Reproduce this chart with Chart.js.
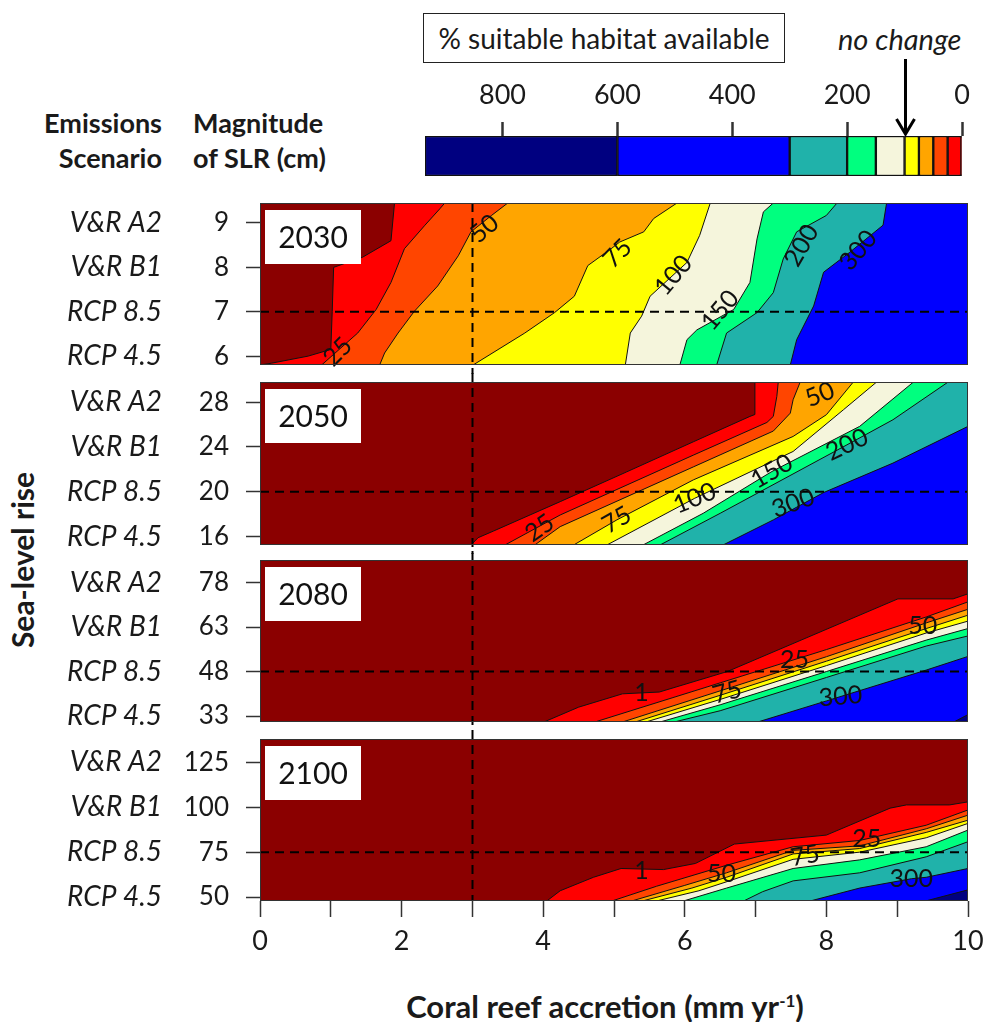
<!DOCTYPE html>
<html>
<head>
<meta charset="utf-8">
<script src="https://cdn.jsdelivr.net/npm/chart.js@4"></script>
<style>
  body { margin: 0; background: #fff; }
  #page { position: relative; width: 985px; height: 1022px; font-family: Lato, "Open Sans", sans-serif; color: #1a1a1a; overflow: hidden; }
  #page canvas { position: absolute; }
  .txt { position: absolute; white-space: nowrap; }
  .bold { font-weight: bold; }
</style>
</head>
<body>
<div id="page">
  <div class="txt" id="legendTitle" style="left:423px;top:13px;width:362px;height:50px;box-sizing:border-box;border:1.5px solid #222;display:flex;align-items:center;justify-content:center;font-size:28px;">% suitable habitat available</div>
  <div class="txt" style="left:838px;top:22px;font-size:29px;font-style:italic;line-height:34px;">no change</div>

  <div class="txt bold" style="left:0;width:162px;text-align:right;top:105px;font-size:27px;line-height:35px;">Emissions<br>Scenario</div>
  <div class="txt bold" style="left:193px;top:105px;font-size:27px;line-height:35px;">Magnitude<br>of SLR (cm)</div>

  <div class="txt bold" style="left:-128px;top:543px;width:300px;text-align:center;font-size:30px;line-height:34px;transform:rotate(-90deg);">Sea-level rise</div>
  <div class="txt bold" style="left:305px;top:983px;width:600px;text-align:center;font-size:31px;line-height:36px;">Coral reef accretion (mm yr<sup style="font-size:17px;">-1</sup>)</div>

  <canvas id="colorbar" style="left:400px;top:50px"></canvas>
  <canvas id="p2030" style="left:0;top:194px"></canvas>
  <canvas id="p2050" style="left:0;top:373px"></canvas>
  <canvas id="p2080" style="left:0;top:551px"></canvas>
  <canvas id="p2100" style="left:0;top:730px"></canvas>
</div>

<script>
// ---- data ----
const scenarios = ['RCP 4.5', 'RCP 8.5', 'V&R B1', 'V&R A2'];   // bottom to top
const slr2030 = [6, 7, 8, 9];
const slr2050 = [16, 20, 24, 28];
const slr2080 = [33, 48, 63, 78];
const slr2100 = [50, 75, 100, 125];
const RCP85_INDEX = 1;

const accretionTicks = [0, 1, 2, 3, 4, 5, 6, 7, 8, 9, 10];
const accretionLabels = ['0', '', '2', '', '4', '', '6', '', '8', '', '10'];
const REF_ACCRETION = 3;

// % suitable habitat contour levels and colour classes (class 0 = below 1%)
const contourLevels = [1, 25, 50, 75, 100, 150, 200, 300, 600];
const habitatColors = ['#8B0000', '#FF0000', '#FF4500', '#FFA500', '#FFFF00',
                       '#F5F5DC', '#00FF7F', '#20B2AA', '#0000FF', '#000080'];
const legendBreaks = [0, 1, 25, 50, 75, 100, 150, 200, 300, 600, 935];
const legendTicks = [0, 200, 400, 600, 800];
const NO_CHANGE = 100;

// contour lines, [accretion, SLR] points, one list per level in contourLevels
const contours2030 = [
  [[0, 5.8], [0.16, 5.84], [0.68, 6.0], [1.0, 6.15], [1.02, 7.0], [1.04, 8.0], [1.45, 8.23], [1.85, 8.6], [1.9, 9.45]],
  [[0.87, 5.8], [1.38, 6.52], [1.64, 7.05], [1.85, 7.66], [2.04, 8.42], [2.33, 8.95], [2.54, 9.32], [2.61, 9.45]],
  [[1.69, 5.8], [1.76, 6.07], [1.95, 6.52], [2.18, 7.01], [2.51, 7.58], [2.8, 8.26], [2.98, 8.8], [3.27, 9.17], [3.5, 9.45]],
  [[3.01, 5.8], [3.74, 6.52], [4.16, 6.98], [4.44, 7.35], [4.63, 8.04], [4.96, 8.42], [5.08, 8.57], [5.42, 8.8], [5.56, 9.1], [5.89, 9.45]],
  [[5.16, 5.8], [5.23, 6.52], [5.39, 6.9], [5.51, 7.35], [6.03, 8.11], [6.21, 8.72], [6.36, 9.45]],
  [[5.93, 5.8], [6.03, 6.37], [6.17, 6.59], [6.69, 7.05], [6.92, 7.66], [7.02, 8.64], [7.11, 9.25], [7.25, 9.45]],
  [[6.45, 5.8], [6.59, 6.52], [7.02, 6.98], [7.25, 7.43], [7.39, 8.19], [7.58, 8.8], [8.0, 9.17], [8.15, 9.45]],
  [[7.49, 5.8], [7.58, 6.37], [7.82, 7.13], [7.96, 7.89], [8.33, 8.34], [8.8, 8.95], [8.85, 9.45]],
  []
];
const contours2050 = [
  [[2.98, 15.25], [3.08, 15.9], [3.3, 16.5], [4.24, 19.12], [5.18, 21.78], [6.12, 24.46], [6.92, 26.73], [6.99, 26.9], [6.99, 29.8]],
  [[3.46, 15.25], [4.24, 17.93], [6.12, 23.27], [7.16, 26.19], [7.25, 26.73], [7.3, 28.52], [7.32, 29.8]],
  [[3.88, 15.25], [4.24, 16.89], [6.12, 22.22], [7.25, 25.42], [7.49, 27.02], [7.53, 28.22], [7.63, 29.8]],
  [[4.43, 15.25], [5.04, 17.49], [6.12, 21.06], [7.53, 24.94], [8.0, 26.88], [8.38, 29.8]],
  [[4.9, 15.25], [6.14, 19.42], [7.53, 23.6], [8.24, 27.32], [8.71, 29.8]],
  [[5.41, 15.25], [6.26, 18.08], [7.23, 21.81], [8.47, 25.84], [9.23, 29.8]],
  [[5.65, 15.25], [6.5, 18.08], [8.29, 24.19], [8.94, 26.43], [9.72, 29.8]],
  [[6.54, 15.25], [7.25, 17.49], [7.96, 19.93], [8.94, 22.56], [10, 25.84]],
  []
];
const contours2080 = [
  [[4.01, 31], [4.5, 36], [5.12, 40.5], [5.64, 41.1], [6.6, 48], [9.01, 72.5], [9.79, 72.5], [10, 74.2]],
  [[4.73, 31], [6.5, 44.2], [8.0, 55.4], [9.41, 66.4], [10, 71.5]],
  [[5.12, 31], [6.5, 41.5], [8.0, 53.0], [9.41, 64.4], [10, 69]],
  [[5.3, 31], [6.5, 40.0], [8.0, 51.5], [9.41, 62.5], [10, 67]],
  [[5.45, 31], [6.5, 38.6], [8.0, 50.0], [9.41, 61.0], [10, 65]],
  [[5.65, 31], [6.5, 36.8], [8.0, 48.0], [9.41, 58.6], [10, 62.5]],
  [[5.85, 31], [6.5, 34.8], [8.0, 46.0], [9.41, 56.6], [10, 60]],
  [[7.03, 31], [8.0, 38.1], [9.41, 48.5], [10, 53.1]],
  [[9.8, 31], [10, 33.5]]
];
const contours2100 = [
  [[4.05, 47.8], [4.24, 53.5], [4.71, 61], [5.1, 65.9], [5.7, 65.3], [6.15, 68.7], [6.7, 79.5], [8.0, 84.5], [8.9, 99.5], [9.13, 101.3], [9.74, 101.3], [10, 103]],
  [[4.97, 47.8], [5.6, 56], [6.59, 67.7], [7.53, 78], [8.47, 81.5], [9.41, 90], [10, 98.5]],
  [[5.25, 47.8], [6.0, 56.5], [6.59, 63.5], [7.53, 76], [8.47, 78.5], [9.41, 88], [10, 95.6]],
  [[5.4, 47.8], [6.1, 55], [6.59, 61], [7.53, 74], [8.47, 77], [9.41, 86], [10, 92.8]],
  [[5.6, 47.8], [6.2, 53.5], [6.59, 58.5], [7.53, 71], [8.47, 75], [9.41, 83], [10, 91]],
  [[5.98, 47.8], [6.59, 55], [7.53, 65.9], [8.47, 70.7], [9.41, 78], [10, 87.3]],
  [[6.83, 47.8], [7.1, 53], [7.53, 59], [8.47, 63.5], [9.41, 72.4], [10, 80.8]],
  [[7.77, 47.8], [8.47, 55], [9.2, 60.2], [9.41, 61], [10, 65.9]],
  [[9.4, 47.8], [10, 54]]
];

// contour labels: text, accretion, SLR, angle (deg)
const labels2030 = [['25', 1.1, 6.1, -45], ['50', 3.17, 8.87, -40], ['75', 5.05, 8.31, -45], ['100', 5.84, 7.82, -50],
                    ['150', 6.5, 7.03, -50], ['200', 7.65, 8.49, -60], ['300', 8.45, 8.38, -50]];
const labels2050 = [['25', 3.95, 16.75, -35], ['75', 5.04, 17.49, -30], ['100', 6.14, 19.42, -22], ['150', 7.23, 21.81, -30],
                    ['200', 8.29, 24.19, -25], ['300', 7.53, 18.97, -20], ['50', 7.91, 28.67, -22]];
const labels2080 = [['1', 5.39, 40.8, 0], ['75', 6.6, 41.0, -15], ['25', 7.55, 52, 0], ['50', 9.36, 63.4, 0], ['300', 8.2, 39.6, -5]];
const labels2100 = [['1', 5.39, 64.5, 0], ['50', 6.52, 63.0, 0], ['75', 7.7, 73, -10], ['25', 8.57, 82.6, 0], ['300', 9.2, 60.2, 0]];

// ---- drawing ----
Chart.defaults.font.family = 'Lato, "Open Sans", sans-serif';
Chart.defaults.color = '#1a1a1a';

const panels = [
  { id: 'p2030', year: '2030', slr: slr2030, yMin: 5.8, yMax: 9.45, contours: contours2030, labels: labels2030, height: 180 },
  { id: 'p2050', year: '2050', slr: slr2050, yMin: 15.25, yMax: 29.8, contours: contours2050, labels: labels2050, height: 181 },
  { id: 'p2080', year: '2080', slr: slr2080, yMin: 31, yMax: 85.6, contours: contours2080, labels: labels2080, height: 180 },
  { id: 'p2100', year: '2100', slr: slr2100, yMin: 47.8, yMax: 138, contours: contours2100, labels: labels2100, height: 240 }
];

function makeDecor(panel, first, last) {
  return {
    id: 'panelDecor',
    beforeDatasetsDraw(chart) {
      const {ctx, chartArea: a} = chart;
      ctx.save();
      ctx.fillStyle = habitatColors[0];
      ctx.fillRect(a.left, a.top, a.width, a.height);
      ctx.restore();
    },
    afterDatasetsDraw(chart) {
      const {ctx, chartArea: a, scales} = chart;
      ctx.save();
      ctx.fillStyle = '#111';
      ctx.textAlign = 'center';
      ctx.textBaseline = 'middle';
      ctx.font = '25px Lato';
      panel.labels.forEach(([text, x, y, angle]) => {
        ctx.save();
        ctx.translate(scales.x.getPixelForValue(x), scales.y.getPixelForValue(y));
        ctx.rotate(angle * Math.PI / 180);
        ctx.fillText(text, 0, 0);
        ctx.restore();
      });

      // 3 mm/yr reference line runs through all four panels
      const px = Math.round(scales.x.getPixelForValue(REF_ACCRETION)) + 0.5;
      ctx.strokeStyle = '#000';
      ctx.lineWidth = 2;
      ctx.setLineDash([9, 6]);
      ctx.beginPath();
      ctx.moveTo(px, first ? a.top : 0);
      ctx.lineTo(px, last ? a.bottom : chart.height);
      ctx.stroke();
      ctx.setLineDash([]);

      ctx.fillStyle = '#fff';
      ctx.fillRect(a.left + 5, a.top + 7, 96, 54);
      ctx.fillStyle = '#111';
      ctx.font = '30px Lato';
      ctx.fillText(panel.year, a.left + 53, a.top + 35);

      ctx.strokeStyle = '#333';
      ctx.lineWidth = 1;
      ctx.strokeRect(a.left + 0.5, a.top + 0.5, a.width - 1, a.height - 1);
      ctx.restore();
    }
  };
}

function buildPanel(panel, idx) {
  const first = idx === 0;
  const last = idx === panels.length - 1;
  const canvas = document.getElementById(panel.id);
  canvas.width = 985;
  canvas.height = panel.height;

  const datasets = [];
  contourLevels.forEach((level, i) => {
    const pts = panel.contours[i];
    if (!pts.length) return;
    // region at or above this level lies below/right of the contour
    const poly = pts.concat([[10, panel.yMax], [10, panel.yMin]]);
    datasets.push({
      label: '>= ' + level + '%',
      data: poly.map(([x, y]) => ({x, y})),
      fill: 'shape',
      backgroundColor: habitatColors[i + 1],
      borderColor: '#111',
      borderWidth: 1,
      pointRadius: 0,
      tension: 0,
      order: contourLevels.length - i + 1
    });
  });
  const rcp = panel.slr[RCP85_INDEX];
  datasets.push({
    label: 'RCP 8.5',
    data: [{x: 0, y: rcp}, {x: 10, y: rcp}],
    borderColor: '#000',
    borderWidth: 2,
    borderDash: [9, 6],
    pointRadius: 0,
    fill: false,
    order: 0
  });

  const slrTicks = s => { s.ticks = panel.slr.map(v => ({value: v})); };
  // fixed axis widths, and no extra room for end labels
  const fitY = w => s => { s.width = w; s.paddingTop = 0; s.paddingBottom = 0; };

  return new Chart(canvas, {
    type: 'line',
    data: { datasets },
    options: {
      responsive: false,
      animation: false,
      layout: { padding: { top: 9, bottom: 9, left: 0, right: 17 } },
      plugins: { legend: { display: false }, tooltip: { enabled: false } },
      scales: {
        x: {
          type: 'linear', min: 0, max: 10,
          display: last,
          afterBuildTicks: s => { s.ticks = accretionTicks.map(v => ({value: v})); },
          afterFit: s => { s.height = last ? 60 : 0; s.paddingLeft = 0; s.paddingRight = 0; },
          ticks: { autoSkip: false, maxRotation: 0, padding: 8, font: { size: 27 },
                   callback: (v, i) => accretionLabels[i] },
          grid: { drawOnChartArea: false, tickLength: 16, tickColor: '#333', tickWidth: 1.5 },
          border: { display: false }
        },
        y: {
          type: 'linear', position: 'left', weight: 0,
          min: panel.yMin, max: panel.yMax,
          afterBuildTicks: slrTicks,
          afterFit: fitY(75),
          ticks: { padding: 17, font: { size: 26 } },
          grid: { drawOnChartArea: false, tickLength: 14, tickColor: '#333', tickWidth: 1.5 },
          border: { display: false }
        },
        scen: {
          type: 'linear', position: 'left', weight: 1,
          min: panel.yMin, max: panel.yMax,
          afterBuildTicks: slrTicks,
          afterFit: fitY(185),
          ticks: { padding: 23, font: { size: 28, style: 'italic' },
                   callback: (v, i) => scenarios[i] },
          grid: { display: false, drawTicks: false },
          border: { display: false }
        }
      }
    },
    plugins: [makeDecor(panel, first, last)]
  });
}

panels.forEach(buildPanel);

// ---- colour bar ----
const noChangeArrow = {
  id: 'noChangeArrow',
  afterDraw(chart) {
    const {ctx, chartArea: a, scales} = chart;
    const x = Math.round(scales.x.getPixelForValue(NO_CHANGE)) + 0.5;
    const tip = a.top;
    ctx.save();
    ctx.strokeStyle = '#000';
    ctx.lineWidth = 3;
    ctx.beginPath();
    ctx.moveTo(x, 9);
    ctx.lineTo(x, tip - 2);
    ctx.moveTo(x - 9, tip - 17);
    ctx.lineTo(x, tip - 2);
    ctx.lineTo(x + 9, tip - 17);
    ctx.stroke();
    ctx.restore();
  }
};

const cb = document.getElementById('colorbar');
cb.width = 585;
cb.height = 140;
new Chart(cb, {
  type: 'bar',
  data: {
    labels: ['habitat'],
    datasets: habitatColors.map((c, i) => ({
      label: legendBreaks[i] + '-' + legendBreaks[i + 1],
      data: [[legendBreaks[i], legendBreaks[i + 1]]],
      backgroundColor: c,
      borderColor: '#111',
      borderWidth: 1.5,
      borderSkipped: false,
      grouped: false,
      barPercentage: 1,
      categoryPercentage: 1
    }))
  },
  options: {
    indexAxis: 'y',
    responsive: false,
    animation: false,
    layout: { padding: { left: 25, right: 23, top: 0, bottom: 14 } },
    plugins: { legend: { display: false }, tooltip: { enabled: false } },
    scales: {
      x: {
        position: 'top', reverse: true, min: 0, max: legendBreaks[legendBreaks.length - 1],
        afterBuildTicks: s => { s.ticks = legendTicks.map(v => ({value: v})); },
        afterFit: s => { s.height = 86; },
        ticks: { padding: 11, font: { size: 27 }, maxRotation: 0 },
        grid: { drawOnChartArea: false, tickLength: 14, tickColor: '#333', tickWidth: 2.5 },
        border: { display: false }
      },
      y: { display: false }
    }
  },
  plugins: [noChangeArrow]
});
</script>
</body>
</html>
